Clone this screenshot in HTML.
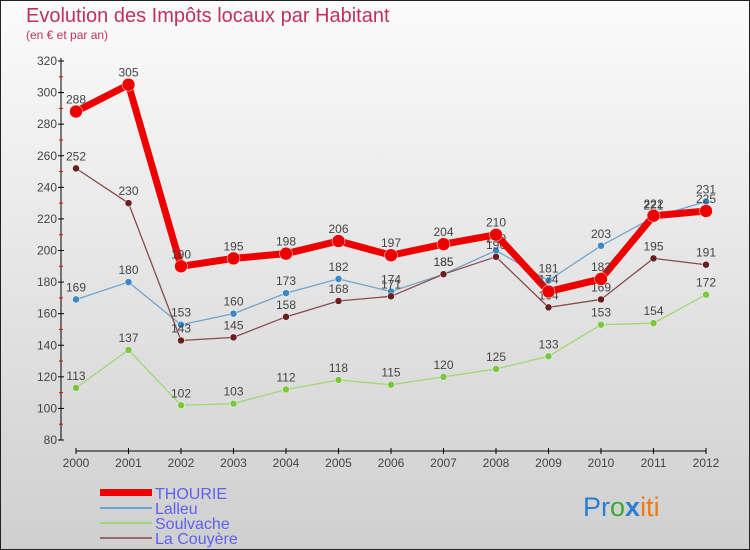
<!DOCTYPE html>
<html><head><meta charset="utf-8"><style>
body{margin:0}
svg{display:block;font-family:"Liberation Sans","DejaVu Sans",sans-serif}
</style></head><body>
<svg id="c" width="750" height="550" xmlns="http://www.w3.org/2000/svg">
<defs><linearGradient id="bg" x1="0" y1="0" x2="0" y2="1"><stop offset="0" stop-color="#fbfbfb"/><stop offset="1" stop-color="#cfcfcf"/></linearGradient></defs>
<rect x="0.5" y="0.5" width="749" height="549" fill="url(#bg)" stroke="#222"/>
<text x="26" y="22" font-size="20" fill="#c0305f">Evolution des Impôts locaux par Habitant</text>
<text x="26" y="39" font-size="12" fill="#c0305f">(en € et par an)</text>
<g id="axes"></g><g id="series"></g>
<g>
<rect x="100" y="489" width="52" height="7" fill="#e00"/>
<text x="155" y="499" font-size="16" fill="#6060f0">THOURIE</text>
<line x1="100" y1="508" x2="152" y2="508" stroke="#6fa3cf" stroke-width="2"/>
<text x="155" y="514" font-size="16" fill="#6060f0">Lalleu</text>
<line x1="100" y1="523" x2="152" y2="523" stroke="#9ed873" stroke-width="2"/>
<text x="155" y="529" font-size="16" fill="#6060f0">Soulvache</text>
<line x1="100" y1="538" x2="152" y2="538" stroke="#9a6a6a" stroke-width="2"/>
<text x="155" y="544" font-size="16" fill="#6060f0">La Couyère</text>
</g>
<text x="583" y="516" font-size="27"><tspan fill="#2a7fd4">Pr</tspan><tspan fill="#3aaa35">o</tspan><tspan fill="#2a7fd4" font-weight="bold">x</tspan><tspan fill="#f07a10">iti</tspan></text>
</svg>
<script>
const years=[2000,2001,2002,2003,2004,2005,2006,2007,2008,2009,2010,2011,2012];
const yTicks=[80,100,120,140,160,180,200,220,240,260,280,300,320];
const thourie=[288,305,190,195,198,206,197,204,210,174,182,222,225];
const lalleu=[169,180,153,160,173,182,174,185,200,181,203,221,231];
const soulvache=[113,137,102,103,112,118,115,120,125,133,153,154,172];
const couyere=[252,230,143,145,158,168,171,185,196,164,169,195,191];
const NS="http://www.w3.org/2000/svg";
const X=y=>76+(y-2000)*(706-76)/12;
const Y=v=>440-(v-80)*(440-61)/240;
function mk(t,a,p){const e=document.createElementNS(NS,t);for(const k in a)e.setAttribute(k,a[k]);p.appendChild(e);return e;}
const ax=document.getElementById('axes'),se=document.getElementById('series');
let e=mk('line',{x1:61,y1:58,x2:61,y2:440,stroke:'#000'},ax);


e=mk('line',{x1:76,y1:451,x2:706,y2:451,stroke:'#000'},ax);


yTicks.forEach((v,i)=>{mk('line',{x1:58,y1:Y(v),x2:64,y2:Y(v),stroke:'#000'},ax);
 if(i<yTicks.length-1)mk('line',{x1:59,y1:Y(v+10),x2:63,y2:Y(v+10),stroke:'#e00'},ax);
 const t=mk('text',{x:57,y:Y(v)+4,'font-size':12,fill:'#444','text-anchor':'end'},ax);t.textContent=v;
 
 });
years.forEach(y=>{mk('line',{x1:X(y),y1:448,x2:X(y),y2:454,stroke:'#000'},ax);
 const t=mk('text',{x:X(y),y:467,'font-size':12,fill:'#444','text-anchor':'middle'},ax);t.textContent=y;
 
 });
function draw(vals,col,w,r,name,dot){
 const g=mk('g',{},se);
 
 
 mk('polyline',{points:vals.map((v,i)=>X(years[i])+','+Y(v)).join(' '),fill:'none',stroke:col,'stroke-width':w,'stroke-linejoin':'round'},g);
 vals.forEach((v,i)=>{const c=mk('circle',{cx:X(years[i]),cy:Y(v),r:r,fill:dot,stroke:'#fff','stroke-width':0.5},g);
  
  
  const t=mk('text',{x:X(years[i]),y:Y(v)-8,'font-size':12,fill:'#444','text-anchor':'middle'},g);t.textContent=v;
  
  });
}
draw(soulvache,'#9ed873',1.3,3.5,'soulvache','#7cc63e');
draw(lalleu,'#6fa3cf',1.3,3.5,'lalleu','#3a88c8');
draw(couyere,'#8a4a4a',1.3,3.5,'la-couyere','#6a1f1f');
draw(thourie,'#e00',7,6.5,'thourie','#e00');
</script>
</body></html>
